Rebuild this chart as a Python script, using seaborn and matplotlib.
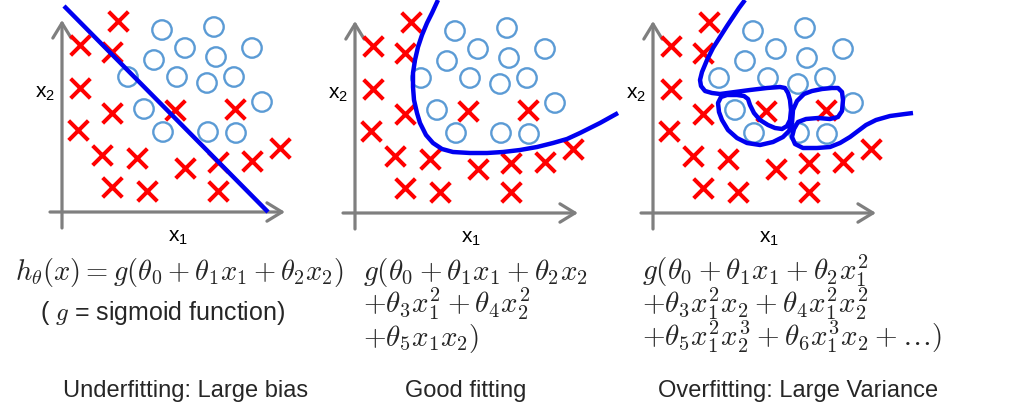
import numpy as np
import pandas as pd
import matplotlib
matplotlib.use("Agg")
import matplotlib.pyplot as plt
import seaborn as sns

# ---------------- data (pixel-like units relative to each panel's origin) -------------
cross_x = [56, 18, 50, 18, 50, 16, 40, 75, 50, 85, 113, 173, 123, 156, 190, 218, 156]
cross_y = [191, 167, 160, 124, 99, 82, 57, 54, 25, 21, 102, 103, 44, 50, 51, 64, 21]

circle_x = [100, 152, 123, 154, 190, 92, 66, 115, 145, 172, 200, 82, 101, 146, 174]
circle_y = [182, 185, 164, 155, 164, 152, 135, 135, 129, 135, 110, 103, 80, 80, 79]

# decision boundaries
under_x = [2, 206]
under_y = [206, 0]

good_x = [83, 77, 72, 67, 63, 60, 58, 58, 59, 62, 65, 71, 78, 87, 98, 115, 132, 148,
          165, 182, 198, 212, 225, 245, 263]
good_y = [213, 200, 190, 178, 166, 153, 140, 126, 113, 100, 90, 78, 70, 64, 61, 60, 60,
          61, 63, 66, 70, 74, 80, 90, 100]

over_x = [92, 86, 80, 74, 67, 60, 54, 49, 47, 48, 52, 59, 67, 82, 97, 114, 127, 132,
          135, 137, 138, 137, 134, 129, 122, 115, 107, 101, 97, 95, 91, 84, 74, 68, 65,
          66, 69, 75, 84, 94, 107, 120, 130, 136, 139, 140, 144, 151, 159, 169, 179,
          185, 189, 190, 189, 185, 177, 165, 153, 145, 141, 139, 142, 150, 164, 177,
          187, 197, 205, 213, 223, 237, 252, 260]
over_y = [213, 205, 196, 187, 176, 165, 153, 141, 133, 127, 122, 120, 119, 121, 123,
          125, 126, 125, 120, 113, 103, 93, 87, 84, 85, 88, 93, 100, 108, 114, 117, 118,
          118, 116, 110, 101, 93, 83, 75, 70, 68, 71, 76, 82, 90, 103, 112, 119, 122,
          124, 125, 125, 121, 113, 102, 96, 94, 95, 94, 91, 84, 76, 69, 65, 65, 66, 70,
          76, 82, 88, 93, 97, 99, 100]

boundaries = [(under_x, under_y), (good_x, good_y), (over_x, over_y)]

formulas = [
    [r"$h_\theta(x) = g(\theta_0 + \theta_1 x_1 + \theta_2 x_2)$"],
    [r"$g(\theta_0 + \theta_1 x_1 + \theta_2 x_2$",
     r"$+\theta_3 x_1^2 + \theta_4 x_2^2$",
     r"$+\theta_5 x_1 x_2)$"],
    [r"$g(\theta_0 + \theta_1 x_1 + \theta_2 x_1^2$",
     r"$+\theta_3 x_1^2 x_2 + \theta_4 x_1^2 x_2^2$",
     r"$+\theta_5 x_1^2 x_2^3 + \theta_6 x_1^3 x_2 + \ldots)$"],
]
note_text = r"( $g$ = sigmoid function)"
titles = ["Underfitting: Large bias", "Good fitting", "Overfitting: Large Variance"]

# ---------------- style ----------------
sns.set_theme(style="white")
plt.rcParams["font.family"] = ["Liberation Sans", "DejaVu Sans"]
plt.rcParams["mathtext.fontset"] = "cm"

W, H = 1032, 419
fig = plt.figure(figsize=(W / 100, H / 100), dpi=100)
fig.patch.set_facecolor("white")

RED = "#ff0000"
BLUE_PT = "#5b9bd5"
BLUE_LN = "#0000f0"
GRAY = "#7f7f7f"

origins = [(62, 212), (355, 213), (653, 213)]
xmin, xmax, ymin, ymax = -40, 270, -45, 213

pts_cross = pd.DataFrame({"x": cross_x, "y": cross_y})
pts_circ = pd.DataFrame({"x": circle_x, "y": circle_y})

for i, (ox, oy) in enumerate(origins):
    ax = fig.add_axes([(ox + xmin) / W, (H - (oy - ymin)) / H,
                       (xmax - xmin) / W, (ymax - ymin) / H])
    ax.set_xlim(xmin, xmax)
    ax.set_ylim(ymin, ymax)
    ax.axis("off")

    # axes with arrows
    ax.annotate("", xy=(223, 0), xytext=(-12, 0),
                arrowprops=dict(arrowstyle="->,head_length=0.9,head_width=0.55",
                                lw=2.3, color=GRAY, shrinkA=0, shrinkB=0),
                annotation_clip=False)
    ax.annotate("", xy=(0, 192), xytext=(0, -16),
                arrowprops=dict(arrowstyle="->,head_length=0.9,head_width=0.55",
                                lw=2.3, color=GRAY, shrinkA=0, shrinkB=0),
                annotation_clip=False)
    ax.text(-17, 119, r"$\mathregular{x_2}$", fontsize=15, ha="center", va="center",
            color="black")
    ax.text(116, -25, r"$\mathregular{x_1}$", fontsize=15, ha="center", va="center",
            color="black")

    sns.scatterplot(data=pts_cross, x="x", y="y", marker="x", s=200, color=RED,
                    linewidth=2.9, ax=ax, legend=False, zorder=3, clip_on=False)
    sns.scatterplot(data=pts_circ, x="x", y="y", marker="o", s=195,
                    facecolor="none", edgecolor=BLUE_PT, linewidth=1.7,
                    ax=ax, legend=False, zorder=3, clip_on=False)

    bx, by = boundaries[i]
    sns.lineplot(x=bx, y=by, sort=False, estimator=None, color=BLUE_LN,
                 linewidth=3.2, ax=ax, zorder=4, clip_on=False,
                 solid_joinstyle="round", solid_capstyle="butt")

# ---------------- texts ----------------
def ftext(px, py, s, **kw):
    fig.text(px / W, 1 - py / H, s, **kw)

ftext(15, 280, formulas[0][0], fontsize=20.5, ha="left", va="baseline")
ftext(40, 320, note_text, fontsize=18, ha="left", va="baseline")

for j, y in enumerate([280, 313, 346]):
    ftext(363, y, formulas[1][j], fontsize=21, ha="left", va="baseline")
    ftext(642, y, formulas[2][j], fontsize=21, ha="left", va="baseline")

for cx, t in zip([186, 466, 798], titles):
    ftext(cx, 397, t, fontsize=17, ha="center", va="baseline")

fig.savefig("out.png", dpi=100, facecolor="white")
